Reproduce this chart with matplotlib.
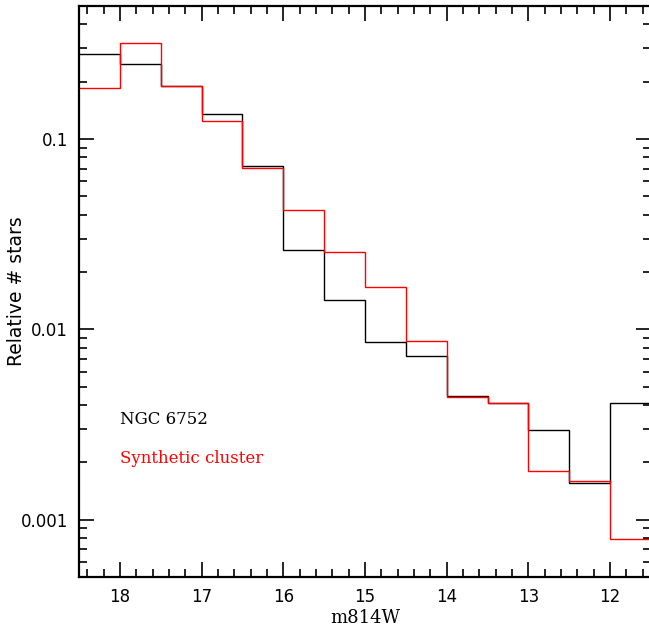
import numpy as np
import matplotlib
matplotlib.use("Agg")
import matplotlib.pyplot as plt
from matplotlib.ticker import FixedLocator, LogLocator, NullFormatter

# Bin edges (m814W magnitudes)
bin_edges = [18.5, 18.0, 17.5, 17.0, 16.5, 16.0, 15.5, 15.0, 14.5, 14.0, 13.5, 13.0, 12.5, 12.0, 11.5]

# Relative number of stars per bin
ngc6752 = [0.279, 0.247, 0.191, 0.136, 0.0719, 0.0261, 0.0142, 0.00855, 0.00722,
           0.00448, 0.00408, 0.00295, 0.00155, 0.00408]
synthetic = [0.1845, 0.320, 0.190, 0.124, 0.0704, 0.0426, 0.0255, 0.01675, 0.00873,
             0.00442, 0.00408, 0.00181, 0.00159, 0.000792]

xticks = [18, 17, 16, 15, 14, 13, 12]
yticks = [0.001, 0.01, 0.1]
ytick_labels = ["0.001", "0.01", "0.1"]

fig = plt.figure(figsize=(6.49, 6.28), dpi=100)
ax = fig.add_axes([79/649, 51/628, 572/649, 571/628])

ax.stairs(ngc6752, bin_edges, color="black", lw=1.0, baseline=None)
ax.stairs(synthetic, bin_edges, color="red", lw=1.0, baseline=None)

ax.set_yscale("log")
ax.set_xlim(18.5, 11.5)
ax.set_ylim(5e-4, 0.5)

ax.xaxis.set_major_locator(FixedLocator(xticks))
ax.xaxis.set_minor_locator(FixedLocator(np.arange(11.6, 18.5, 0.2)))
ax.set_xticklabels([str(t) for t in xticks])
ax.yaxis.set_major_locator(FixedLocator(yticks))
ax.set_yticklabels(ytick_labels)
ax.yaxis.set_minor_locator(LogLocator(base=10, subs=np.arange(2, 10)))
ax.yaxis.set_minor_formatter(NullFormatter())

ax.tick_params(which="both", direction="in", top=True, right=True, width=1.2)
ax.tick_params(which="major", length=11, labelsize=12, pad=8)
ax.tick_params(which="minor", length=6)
for s in ax.spines.values():
    s.set_linewidth(1.6)

ax.set_xlabel("m814W", fontsize=13, family="DejaVu Serif", labelpad=2)
ax.set_ylabel("Relative # stars", fontsize=13.5, family="DejaVu Sans")
ax.yaxis.set_label_coords(-0.093, 0.5)

ax.text(0.072, 0.275, "NGC 6752", transform=ax.transAxes, fontsize=12,
        family="DejaVu Serif", color="black", va="center", ha="left")
ax.text(0.072, 0.208, "Synthetic cluster", transform=ax.transAxes, fontsize=12,
        family="DejaVu Serif", color="red", va="center", ha="left")

fig.savefig("out.png", dpi=100)
